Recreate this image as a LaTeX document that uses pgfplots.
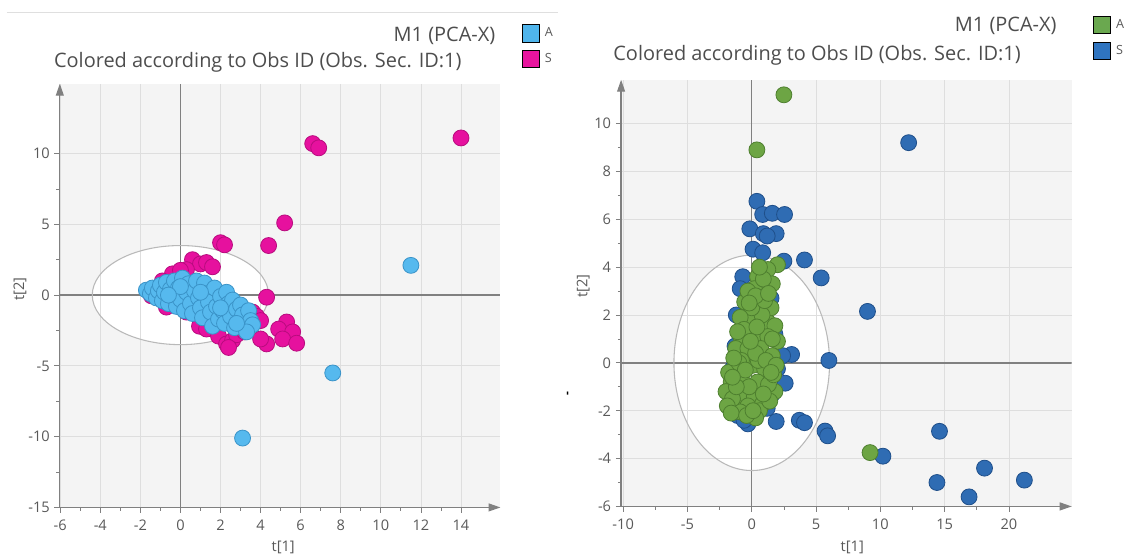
\documentclass[border=0pt]{standalone}
\usepackage{fontspec}
\setmainfont{Open Sans}
\usepackage{pgfplots}
\pgfplotsset{compat=1.18}
\usetikzlibrary{arrows.meta}

\definecolor{lblue}{HTML}{56B9EE}
\definecolor{lblueedge}{HTML}{3A93C8}
\definecolor{magen}{HTML}{E6119E}
\definecolor{magenedge}{HTML}{B80C7E}
\definecolor{gre}{HTML}{6DA544}
\definecolor{greedge}{HTML}{4E7F2F}
\definecolor{dblue}{HTML}{2F6CB3}
\definecolor{dblueedge}{HTML}{1F4F8A}
\definecolor{legLA}{HTML}{4FB5EC}
\definecolor{legLS}{HTML}{E8149E}
\definecolor{legRA}{HTML}{6AA84F}
\definecolor{legRS}{HTML}{2F74C0}
\definecolor{bggray}{HTML}{F4F4F4}
\definecolor{gridgray}{HTML}{DEDEDE}
\definecolor{axgray}{HTML}{808080}
\definecolor{txtgray}{HTML}{595959}
\definecolor{titlegray}{HTML}{4D4D4D}

\pgfplotsset{
  pca/.style={
    scale only axis, set layers,
    axis lines=left,
    x axis line style={draw=axgray, line width=0.9pt, -{Triangle[length=9pt,width=6pt]}},
    y axis line style={draw=axgray, line width=0.9pt, -{Triangle[length=9pt,width=6pt]}},
    grid=major, major grid style={draw=gridgray, line width=0.6pt},
    tick align=outside, major tick length=4pt, minor tick length=2.5pt,
    tick style={draw=axgray, line width=0.6pt},
    ticklabel style={font=\fontsize{11}{13}\selectfont, text=txtgray},
    xticklabel style={yshift=-2pt},
    /pgf/number format/assume math mode=true,
    label style={font=\fontsize{11}{13}\selectfont, text=txtgray},
    legend style={draw=none, fill=none, font=\fontsize{9.5}{11}\selectfont, text=txtgray,
      anchor=north west, nodes={inner sep=0pt}, row sep=6pt, column sep=4pt},
    legend cell align=left,
    legend image code/.code={\fill[##1] (0pt,-6.5pt) rectangle (13pt,6.5pt);},
  },
  pts/.style={only marks, mark=*, mark size=6pt, forget plot}
}

\begin{document}
\begin{tikzpicture}
\path (0,0) rectangle (846pt,-418.5pt);
\draw[gray!25, line width=0.6pt] (5pt,-9pt) -- (420pt,-9pt);

% ---------------- Left panel ----------------
\begin{axis}[pca, at={(45pt,-381.75pt)}, anchor=south west,
  width=331.5pt, height=318.75pt,
  xmin=-6.02, xmax=15.97, ymin=-15, ymax=14.93,
  xtick={-6,-4,...,14}, ytick={-15,-10,...,10},
  minor x tick num=1, minor y tick num=1,
  xlabel={t[1]}, ylabel={t[2]},
  xlabel style={at={(axis description cs:0.507,-0.094)}, anchor=center},
  ylabel style={at={(axis description cs:-0.0905,0.515)}, anchor=center},
  legend style={at={(axis description cs:1.0385,1.147)}},
]
\begin{pgfonlayer}{axis background}
\fill[bggray] (rel axis cs:0,0) rectangle (rel axis cs:1,1);
\fill[white] (axis cs:0,0) ellipse [x radius=4.4, y radius=3.5];
\end{pgfonlayer}
\draw[axgray, line width=1.1pt] (axis cs:0,-15) -- (axis cs:0,14.93);
\draw[axgray, line width=1.1pt] (axis cs:-6.02,0) -- (axis cs:15.97,0);
\draw[gray!55, line width=0.8pt] (axis cs:0,0) ellipse [x radius=4.4, y radius=3.5];

\addlegendimage{fill=legLA}\addlegendentry{A}
\addlegendimage{fill=legLS}\addlegendentry{S}

\addplot[pts, mark options={fill=magen, draw=magenedge, line width=0.6pt}] table {
x y
14.0 11.1
6.6 10.7
6.9 10.4
5.2 5.1
2.0 3.7
2.2 3.55
4.4 3.5
0.6 2.5
1.0 2.2
1.3 2.3
1.6 2.0
0.3 1.8
-0.4 1.5
-0.9 1.0
0.0 1.75
-1.45 -0.05
-0.7 -0.85
0.3 -1.2
4.3 -0.15
3.6 -1.2
3.8 -1.5
4.0 -1.8
5.3 -1.9
4.9 -2.4
5.6 -2.6
5.1 -3.1
5.8 -3.4
4.3 -3.45
4.0 -3.1
0.95 -2.2
1.3 -2.4
1.9 -2.9
2.3 -3.45
2.6 -3.2
2.8 -2.8
3.2 -2.6
2.4 -3.7
};
\addplot[pts, mark options={fill=lblue, draw=lblueedge, line width=0.6pt}] table {
x y
11.5 2.1
7.6 -5.5
3.1 -10.1
-1.7 0.35
-1.5 0.1
-1.4 0.5
-1.2 -0.2
-1.1 0.3
-1.0 0.7
-0.9 -0.4
-0.8 0.2
-0.7 0.9
-0.6 -0.6
-0.5 0.4
-0.4 -0.1
-0.3 1.0
-0.2 -0.8
-0.1 0.5
0.0 -0.3
0.1 1.2
0.2 -1.1
0.3 0.2
0.4 0.8
0.5 -0.6
0.6 -1.3
0.7 0.3
0.8 1.0
0.9 -0.2
1.0 -0.9
1.1 -1.6
1.2 0.85
1.3 0.1
1.4 -0.5
1.5 -1.2
1.6 -2.2
1.7 0.5
1.8 -0.8
1.9 -1.7
2.0 -0.1
2.1 -1.1
2.2 -2.0
2.3 0.2
2.4 -0.6
2.5 -1.5
2.6 -0.35
2.7 -2.3
2.8 -1.0
2.9 -1.9
3.0 -0.7
3.1 -1.4
3.2 -2.2
3.4 -1.1
3.5 -1.8
3.6 -2.1
3.3 -2.6
2.8 -2.0
0.0 0.6
-0.6 0.0
1.0 0.2
2.0 -0.9
};
\end{axis}

% ---------------- Right panel ----------------
\begin{axis}[pca, at={(467.25pt,-381pt)}, anchor=south west,
  width=339pt, height=321pt,
  xmin=-10.16, xmax=24.88, ymin=-6, ymax=11.83,
  xtick={-10,-5,...,20}, ytick={-6,-4,...,10},
  minor x tick num=1, minor y tick num=1,
  xlabel={t[1]}, ylabel={t[2]},
  xlabel style={at={(axis description cs:0.513,-0.096)}, anchor=center},
  ylabel style={at={(axis description cs:-0.084,0.516)}, anchor=center},
  legend style={at={(axis description cs:1.0376,1.1565)}},
]
\begin{pgfonlayer}{axis background}
\fill[bggray] (rel axis cs:0,0) rectangle (rel axis cs:1,1);
\fill[white] (axis cs:0,0) ellipse [x radius=6.05, y radius=4.5];
\end{pgfonlayer}
\draw[axgray, line width=1.1pt] (axis cs:0,-6) -- (axis cs:0,11.83);
\draw[axgray, line width=1.1pt] (axis cs:-10.16,0) -- (axis cs:24.88,0);
\draw[gray!55, line width=0.8pt] (axis cs:0,0) ellipse [x radius=6.05, y radius=4.5];

\addlegendimage{fill=legRA}\addlegendentry{A}
\addlegendimage{fill=legRS}\addlegendentry{S}

\addplot[pts, mark options={fill=dblue, draw=dblueedge, line width=0.6pt}] table {
x y
12.2 9.2
0.4 6.75
0.85 6.2
1.6 6.25
2.55 6.2
-0.15 5.6
0.9 5.4
1.9 5.4
1.2 5.3
0.1 4.75
0.85 4.6
4.1 4.3
5.4 3.55
2.5 4.25
9.0 2.15
6.0 0.1
3.1 0.35
2.4 0.3
2.6 -0.85
1.9 -2.45
3.7 -2.4
4.1 -2.5
5.7 -2.85
5.9 -3.05
14.6 -2.86
10.2 -3.9
18.1 -4.4
21.2 -4.9
14.4 -5.0
16.9 -5.6
-0.7 3.6
-0.9 3.1
1.5 2.7
-1.3 0.7
-1.5 -0.25
-1.5 -1.3
-1.1 -2.2
0.2 -2.1
1.2 -1.9
2.0 -0.25
1.6 -1.3
-0.3 -2.55
-1.7 -1.9
-0.6 -2.4
1.8 1.2
-1.2 2.0
};
\addplot[pts, mark options={fill=gre, draw=greedge, line width=0.6pt}] table {
x y
2.5 11.2
0.4 8.9
9.2 -3.75
2.0 4.1
1.25 3.9
0.45 3.6
1.0 3.1
0.2 3.1
-0.55 2.55
0.6 2.45
1.25 1.7
1.8 1.55
-0.3 1.8
-0.85 1.1
0.2 1.1
1.25 1.1
2.0 0.9
-1.25 0.6
-0.3 0.6
0.7 0.6
-1.25 -0.1
0.1 -0.1
1.0 -0.25
-1.6 -0.8
-0.7 -0.8
0.45 -0.8
-2.0 -1.2
-0.85 -1.4
0.2 -1.4
1.8 -1.2
-1.3 -1.8
-0.3 -1.8
0.85 -1.7
-0.9 -2.05
1.5 2.3
0.8 2.0
0.0 2.3
-0.9 1.9
1.6 0.3
-0.8 0.1
0.5 0.1
-1.5 -1.5
1.3 -0.9
0.6 -2.0
-1.8 -0.4
1.6 3.3
0.9 3.5
-0.3 3.0
-1.0 0.0
1.4 -1.6
-0.2 -1.0
0.3 -2.3
-1.9 -1.8
-1.6 -2.1
-1.2 -1.0
-0.5 -0.3
0.3 0.4
1.1 0.1
1.6 1.0
1.7 -0.5
0.9 -1.3
-0.4 -2.2
-1.4 0.2
-0.6 1.4
0.4 1.5
1.0 2.6
0.3 2.8
-0.2 2.5
1.3 2.9
0.6 4.0
-1.1 1.3
-1.5 -0.6
1.9 -0.1
1.5 -0.4
0.1 -2.0
-0.1 0.9
};
\end{axis}

% titles
\node[anchor=east, font=\fontsize{15}{17}\selectfont, text=titlegray, inner sep=0pt] at (372.75pt,-27pt) {M1 (PCA-X)};
\node[anchor=west, font=\fontsize{15}{17}\selectfont, text=titlegray, inner sep=0pt] at (40.5pt,-47.25pt) {Colored according to Obs ID (Obs. Sec. ID:1)};
\node[anchor=east, font=\fontsize{15}{17}\selectfont, text=titlegray, inner sep=0pt] at (795pt,-19.5pt) {M1 (PCA-X)};
\node[anchor=west, font=\fontsize{15}{17}\selectfont, text=titlegray, inner sep=0pt] at (461.25pt,-41.25pt) {Colored according to Obs ID (Obs. Sec. ID:1)};
\node[font=\fontsize{9}{10}\selectfont\bfseries, rotate=90, inner sep=0pt] at (428pt,-296pt) {-};
\end{tikzpicture}
\end{document}
